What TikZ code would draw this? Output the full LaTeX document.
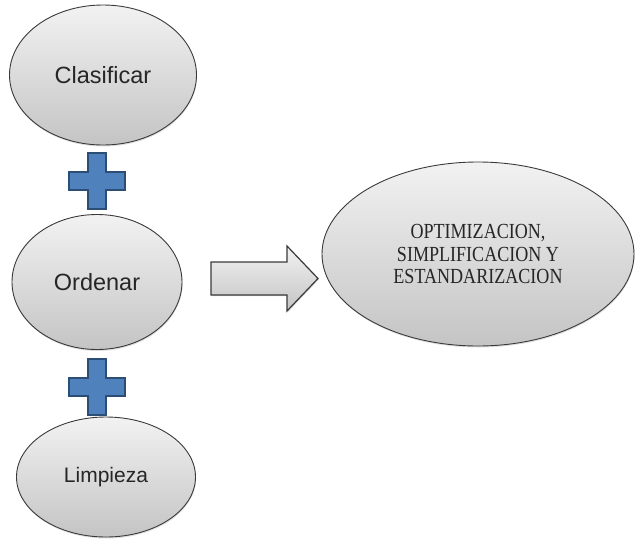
\documentclass[tikz,border=0pt]{standalone}
\usepackage{fontspec}
\setmainfont{Liberation Serif}
\setsansfont{Liberation Sans}
\newfontfamily\serifestrecha[FakeStretch=0.84]{Liberation Serif}
\usepackage{tikz}
\usetikzlibrary{shapes.geometric,shadows}
\definecolor{borde}{HTML}{3A3A3A}
\definecolor{grisclaro}{HTML}{F2F2F2}
\definecolor{grisoscuro}{HTML}{C4C4C4}
\definecolor{azul}{HTML}{4F81BD}
\definecolor{azulborde}{HTML}{2C4D75}
\tikzset{
  elipse/.style={ellipse, draw=borde, line width=0.9pt, top color=grisclaro, bottom color=grisoscuro,
    inner sep=0pt, drop shadow={shadow xshift=0.5pt, shadow yshift=-1.5pt, opacity=0.25}},
  cruz/.style={draw=azulborde, fill=azul, line width=2pt, line join=miter},
  flecha/.style={draw=borde, line width=1.2pt, line join=miter, top color=grisclaro, bottom color=grisoscuro,
    drop shadow={shadow xshift=0.8pt, shadow yshift=-1.2pt, opacity=0.3}},
  etiq/.style={font=\sffamily\fontsize{23.5}{28}\selectfont, text=black!85},
  etiqg/.style={font=\serifestrecha\fontsize{21.5}{22.5}\selectfont, text=black!85, align=center},
}

\begin{document}
\begin{tikzpicture}[x=1pt, y=-1pt]
  \useasboundingbox (0,0) rectangle (635,541);

  % los tres pasos
  \node[elipse, etiq, minimum width=187pt, minimum height=140pt] (clasificar) at (103,75) {Clasificar};
  \node[elipse, etiq, minimum width=170pt, minimum height=135pt] (ordenar) at (97,282) {Ordenar};
  \node[elipse, etiq, font=\sffamily\fontsize{21}{25}\selectfont,
        minimum width=179pt, minimum height=120pt] (limpieza) at (106,477) {Limpieza};

  % signos mas
  \draw[cruz, shift={(97,181)}] (-9,-28) -- (9,-28) -- (9,-9) -- (28,-9) -- (28,9) -- (9,9) -- (9,28)
    -- (-9,28) -- (-9,9) -- (-28,9) -- (-28,-9) -- (-9,-9) -- cycle;
  \draw[cruz, shift={(97,387)}] (-9,-28) -- (9,-28) -- (9,-9) -- (28,-9) -- (28,9) -- (9,9) -- (9,28)
    -- (-9,28) -- (-9,9) -- (-28,9) -- (-28,-9) -- (-9,-9) -- cycle;

  % flecha de bloque
  \draw[flecha] (211,262) -- (287,262) -- (287,246) -- (318,278.5) -- (287,311) -- (287,295)
    -- (211,295) -- cycle;

  \node[elipse, etiqg, minimum width=312pt, minimum height=184pt] (resultado) at (478,254)
    {OPTIMIZACION,\\SIMPLIFICACION Y\\ESTANDARIZACION};
\end{tikzpicture}
\end{document}
